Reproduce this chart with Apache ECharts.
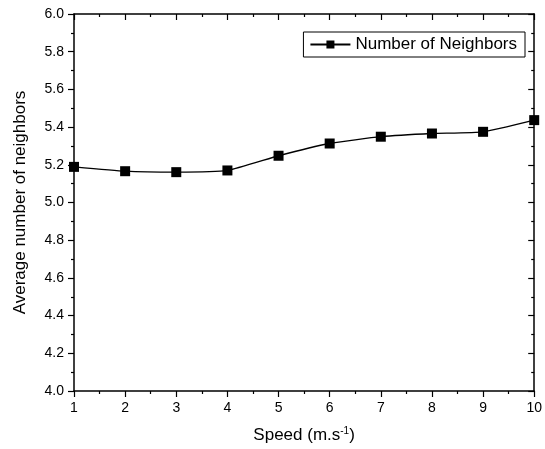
<!DOCTYPE html>
<html>
<head>
<meta charset="utf-8">
<script src="https://cdn.jsdelivr.net/npm/echarts@6/dist/echarts.min.js"></script>
<style>
  html, body { margin: 0; padding: 0; background: #fff; }
  #chart { width: 545px; height: 449px; }
</style>
</head>
<body>
<div id="chart"></div>
<script>
  // data
  const speeds = [1, 2, 3, 4, 5, 6, 7, 8, 9, 10];
  const neighbors = [5.189, 5.166, 5.161, 5.170, 5.248, 5.313, 5.349, 5.366, 5.375, 5.437];
  const seriesName = "Number of Neighbors";

  const font = "Arial, 'Liberation Sans', sans-serif";
  const chart = echarts.init(document.getElementById("chart"));

  const axisLine = { show: true, lineStyle: { color: "#000", width: 1.5 } };

  chart.setOption({
    animation: false,
    grid: { left: 74, right: 10, top: 14, bottom: 58 },
    legend: {
      data: [seriesName],
      right: 20,
      top: 32,
      borderColor: "#000",
      borderWidth: 1,
      padding: [4, 8, 4, 6],
      itemWidth: 40,
      itemHeight: 10,
      itemGap: 4,
      textStyle: { fontFamily: font, fontSize: 17, color: "#000" },
    },
    xAxis: [
      {
        type: "value",
        min: 1,
        max: 10,
        interval: 1,
        name: "Speed (m.s{sup|-1})",
        nameLocation: "middle",
        nameGap: 35,
        nameTextStyle: {
          fontFamily: font,
          fontSize: 17,
          color: "#000",
          rich: {
            sup: { fontFamily: font, fontSize: 10, color: "#000", padding: [0, 0, 9, 0] },
          },
        },
        axisLine: axisLine,
        axisTick: { show: true, inside: false, length: 6, lineStyle: { color: "#000", width: 1.2 } },
        minorTick: { show: true, splitNumber: 2, length: 3, lineStyle: { color: "#000", width: 1.2 } },
        axisLabel: { fontFamily: font, fontSize: 14, color: "#000", margin: 10 },
        splitLine: { show: false },
      },
      {
        type: "value",
        position: "top",
        min: 1,
        max: 10,
        interval: 1,
        axisLine: axisLine,
        axisTick: { show: true, inside: true, length: 6, lineStyle: { color: "#000", width: 1.2 } },
        minorTick: { show: true, splitNumber: 2, length: 3, lineStyle: { color: "#000", width: 1.2 } },
        axisLabel: { show: false },
        splitLine: { show: false },
      },
    ],
    yAxis: [
      {
        type: "value",
        min: 4.0,
        max: 6.0,
        interval: 0.2,
        name: "Average number of neighbors",
        nameLocation: "middle",
        nameGap: 45,
        nameTextStyle: { fontFamily: font, fontSize: 17, color: "#000" },
        axisLine: axisLine,
        axisTick: { show: true, inside: false, length: 6, lineStyle: { color: "#000", width: 1.2 } },
        minorTick: { show: true, splitNumber: 2, length: 3, lineStyle: { color: "#000", width: 1.2 } },
        axisLabel: {
          fontFamily: font,
          fontSize: 14,
          color: "#000",
          margin: 10,
          formatter: (v) => v.toFixed(1),
        },
        splitLine: { show: false },
      },
      {
        type: "value",
        position: "right",
        min: 4.0,
        max: 6.0,
        interval: 0.2,
        axisLine: axisLine,
        axisTick: { show: true, inside: true, length: 6, lineStyle: { color: "#000", width: 1.2 } },
        minorTick: { show: true, splitNumber: 2, length: 3, lineStyle: { color: "#000", width: 1.2 } },
        axisLabel: { show: false },
        splitLine: { show: false },
      },
    ],
    series: [
      {
        name: seriesName,
        type: "line",
        data: speeds.map((s, i) => [s, neighbors[i]]),
        smooth: 0.15,
        symbol: "rect",
        symbolSize: 10,
        itemStyle: { color: "#000" },
        lineStyle: { color: "#000", width: 1.3 },
        clip: false,
      },
    ],
  });
</script>
</body>
</html>
